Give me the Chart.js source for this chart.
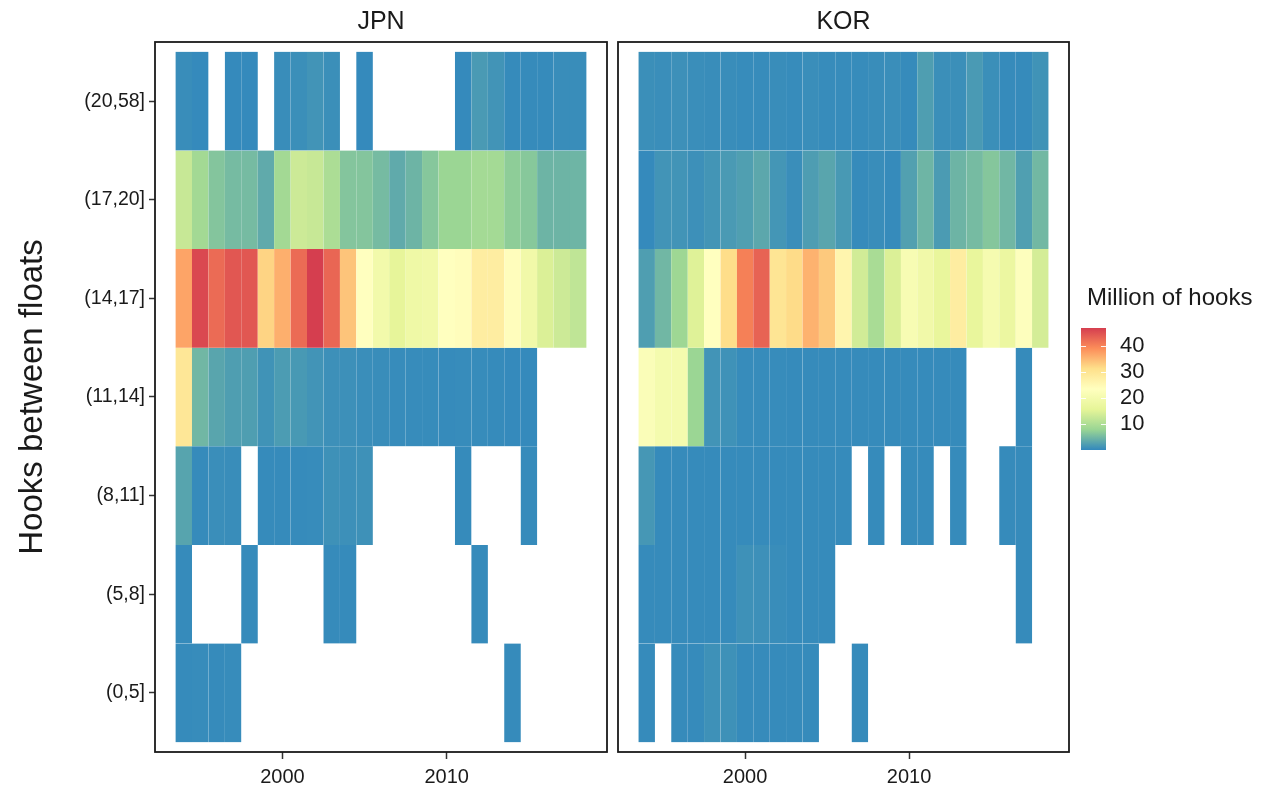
<!DOCTYPE html>
<html>
<head>
<meta charset="utf-8">
<title>Hooks between floats - JPN / KOR</title>
<script src="https://cdn.jsdelivr.net/npm/chart.js@4.4.1/dist/chart.umd.min.js"></script>
<style>
  html, body { margin: 0; padding: 0; background: #fff; }
  #wrap { position: relative; width: 1269px; height: 795px; }
  canvas { position: absolute; top: 0; }
</style>
</head>
<body>
<div id="wrap">
  <canvas id="jpn" width="612" height="795" style="left:0"></canvas>
  <canvas id="kor" width="462" height="795" style="left:612px"></canvas>
  <canvas id="scale" width="194" height="200" style="left:1075px;top:270px"></canvas>
</div>
<script>
// years on the x axis, one tile per year
const years = [1994, 1995, 1996, 1997, 1998, 1999, 2000, 2001, 2002, 2003, 2004, 2005, 2006,
               2007, 2008, 2009, 2010, 2011, 2012, 2013, 2014, 2015, 2016, 2017, 2018];
const yearTicks = [2000, 2010];
const hookBins = ['(0,5]', '(5,8]', '(8,11]', '(11,14]', '(14,17]', '(17,20]', '(20,58]'];
const legendTicks = [10, 20, 30, 40];
const colorMin = 0;
const colorMax = 47;

// million of hooks, JPN (null = no effort)
const jpn_0_5   = [0.3, 0.4, 0.3, 0.4, null, null, null, null, null, null, null, null, null, null, null, null, null, null, null, null, 0.3, null, null, null, null];
const jpn_5_8   = [0.3, null, null, null, 0.3, null, null, null, null, 0.3, 0.3, null, null, null, null, null, null, null, 0.3, null, null, null, null, null, null];
const jpn_8_11  = [2.8, 0.3, 0.6, 0.5, null, 0.3, 0.3, 0.3, 0.4, 0.9, 0.8, 0.9, null, null, null, null, null, 0.3, null, null, null, 0.3, null, null, null];
const jpn_11_14 = [29.5, 4.8, 3.0, 2.2, 2.2, 1.1, 2.0, 1.7, 1.2, 0.8, 0.8, 0.6, 0.5, 0.4, 0.4, 0.4, 0.3, 0.4, 0.4, 0.3, 0.2, 0.2, null, null, null];
const jpn_14_17 = [37, 46, 42.5, 44.5, 44.5, 32.5, 36, 42.5, 47, 43, 34, 23.5, 19.5, 16, 18.5, 19, 23.5, 24, 28, 28, 24, 19, 14.5, 13, 11.7];
const jpn_17_20 = [12.5, 8.8, 6.2, 5.2, 5.2, 3.5, 8.8, 13, 12.5, 9.8, 6.2, 6.2, 5.2, 3.5, 4.5, 6.4, 8, 8, 9, 9, 7, 6.5, 4.5, 4.5, 4.6];
const jpn_20_58 = [0.5, 0.2, null, 0.2, 0.2, null, 0.5, 0.7, 1.2, 0.7, null, 0.2, null, null, null, null, null, 0.2, 1.8, 1.2, 0.3, 0.3, 0.3, 0.5, 0.5];

// million of hooks, KOR
const kor_0_5   = [0.3, null, 0.3, 0.3, 0.9, 0.9, 0.3, 0.3, 0.3, 0.3, 0.3, null, null, 0.3, null, null, null, null, null, null, null, null, null, null, null];
const kor_5_8   = [0.3, 0.3, 0.3, 0.3, 0.3, 0.3, 0.9, 0.8, 0.5, 0.3, 0.3, 0.3, null, null, null, null, null, null, null, null, null, null, null, 0.3, null];
const kor_8_11  = [1.5, 0.3, 0.3, 0.3, 0.3, 0.3, 0.3, 0.3, 0.3, 0.3, 0.3, 0.3, 0.3, null, 0.3, null, 0.3, 0.3, null, 0.3, null, null, 0.3, 0.3, null];
const kor_11_14 = [22, 20, 20, 8, 1.2, 1.0, 0.4, 0.4, 0.4, 0.3, 0.3, 0.3, 0.3, 0.3, 0.3, 0.3, 0.3, 0.3, 0.3, 0.3, null, null, null, 0.3, null];
const kor_14_17 = [2.2, 4.8, 8.3, 15, 23.5, 31.5, 40.5, 43.3, 30, 31.7, 35.7, 33.5, 26, 13.5, 9.5, 14.5, 21, 19, 16.5, 28, 16.5, 20.5, 17.5, 23, 13.8];
const kor_17_20 = [0.2, 1.2, 1.2, 0.8, 1.3, 1.8, 2.3, 3.2, 1.4, 0.6, 2.1, 3.0, 1.7, 0.3, 0.5, 0.3, 2.4, 4.6, 1.9, 4.5, 5.2, 6.3, 4.8, 2.3, 4.9];
const kor_20_58 = [0.7, 0.6, 0.8, 0.6, 0.5, 0.5, 0.4, 0.4, 0.5, 0.4, 0.6, 0.4, 0.4, 0.4, 0.5, 0.6, 0.3, 2.2, 0.7, 0.7, 1.8, 0.7, 0.3, 0.3, 1.1];

const jpnRows = [jpn_0_5, jpn_5_8, jpn_8_11, jpn_11_14, jpn_14_17, jpn_17_20, jpn_20_58];
const korRows = [kor_0_5, kor_5_8, kor_8_11, kor_11_14, kor_14_17, kor_17_20, kor_20_58];

// reversed brewer "Spectral" (7 colours), as scale_fill_distiller
const spectral = ['#3288BD', '#99D594', '#E6F598', '#FFFFBF', '#FEE08B', '#FC8D59', '#D53E4F'];

Chart.defaults.font.family = '"Liberation Sans", Arial, sans-serif';
Chart.defaults.color = '#1a1a1a';

function hexRgb(h) {
  return [parseInt(h.slice(1, 3), 16), parseInt(h.slice(3, 5), 16), parseInt(h.slice(5, 7), 16)];
}

function fillFor(v) {
  let t = (v - colorMin) / (colorMax - colorMin);
  t = Math.max(0, Math.min(1, t)) * (spectral.length - 1);
  const i = Math.min(Math.floor(t), spectral.length - 2);
  const f = t - i;
  const a = hexRgb(spectral[i]), b = hexRgb(spectral[i + 1]);
  const c = a.map((x, k) => Math.round(x + (b[k] - x) * f));
  return `rgb(${c[0]},${c[1]},${c[2]})`;
}

// one floating bar per (year, bin) cell
function tiles(rows) {
  const out = [];
  rows.forEach((vals, r) => {
    vals.forEach((v, i) => {
      if (v !== null) out.push({ x: years[i], y: [r + 0.5, r + 1.5], v: v });
    });
  });
  return out;
}

// border round the panel and the strip label above it
const panelFrame = {
  id: 'panelFrame',
  afterDraw(chart, args, opts) {
    const { ctx, chartArea: a } = chart;
    ctx.save();
    ctx.strokeStyle = '#1a1a1a';
    ctx.lineWidth = 1.8;
    ctx.strokeRect(a.left, a.top, a.right - a.left, a.bottom - a.top);
    ctx.font = '25px "Liberation Sans", Arial, sans-serif';
    ctx.fillStyle = '#1a1a1a';
    ctx.textAlign = 'center';
    ctx.textBaseline = 'middle';
    ctx.fillText(opts.label, (a.left + a.right) / 2, a.top / 2 + 1);
    ctx.restore();
  }
};

function panel(canvasId, label, rows, showY, padLeft) {
  const ctx = document.getElementById(canvasId).getContext('2d');
  return new Chart(ctx, {
    type: 'bar',
    data: {
      datasets: [{
        data: tiles(rows),
        backgroundColor: (c) => c.raw ? fillFor(c.raw.v) : 'transparent',
        borderColor: 'rgba(255,255,255,0.05)',
        borderWidth: 0.3,
        barPercentage: 1,
        categoryPercentage: 1
      }]
    },
    options: {
      responsive: false,
      animation: false,
      devicePixelRatio: 1,
      layout: { padding: { top: 42, right: 5, bottom: 0, left: padLeft } },
      plugins: {
        legend: { display: false },
        tooltip: { enabled: false },
        panelFrame: { label: label }
      },
      scales: {
        x: {
          type: 'linear',
          min: 1992.25,
          max: 2019.75,
          bounds: 'data',
          offset: false,
          afterBuildTicks: (s) => { s.ticks = yearTicks.map(v => ({ value: v })); },
          afterFit: (s) => { s.height = 43; },
          border: { display: false },
          grid: { offset: false, drawOnChartArea: false, tickLength: 7, tickColor: '#333', tickWidth: 1.5 },
          ticks: {
            autoSkip: false, maxRotation: 0, padding: 6,
            font: { size: 20 }, color: '#1a1a1a',
            callback: (v) => String(v)
          }
        },
        y: {
          type: 'linear',
          display: showY,
          min: 0.4,
          max: 7.6,
          bounds: 'data',
          afterBuildTicks: (s) => { s.ticks = hookBins.map((_, i) => ({ value: i + 1 })); },
          afterFit: (s) => { if (showY) s.width = 155; },
          border: { display: false },
          grid: { drawOnChartArea: false, tickLength: 6, tickColor: '#333', tickWidth: 1.5 },
          title: {
            display: true,
            text: 'Hooks between floats',
            font: { size: 33 },
            color: '#1a1a1a',
            padding: { top: 13, bottom: 0 }
          },
          ticks: {
            autoSkip: false, padding: 4,
            font: { size: 19.5 }, color: '#1a1a1a',
            callback: (v) => hookBins[Math.round(v) - 1]
          }
        }
      }
    },
    plugins: [panelFrame]
  });
}

panel('jpn', 'JPN', jpnRows, true, 0);
panel('kor', 'KOR', korRows, false, 6);

// colour bar legend
const barDecor = {
  id: 'barDecor',
  afterDatasetsDraw(chart) {
    const { ctx, chartArea: a } = chart;
    const y = chart.scales.y;
    ctx.save();
    ctx.strokeStyle = 'rgba(255,255,255,0.9)';
    ctx.lineWidth = 1;
    legendTicks.forEach(v => {
      const p = Math.round(y.getPixelForValue(v)) + 0.5;
      ctx.beginPath();
      ctx.moveTo(a.left, p); ctx.lineTo(a.left + 5, p);
      ctx.moveTo(a.right - 5, p); ctx.lineTo(a.right, p);
      ctx.stroke();
    });
    ctx.font = '24px "Liberation Sans", Arial, sans-serif';
    ctx.fillStyle = '#1a1a1a';
    ctx.textAlign = 'left';
    ctx.textBaseline = 'middle';
    ctx.fillText('Million of hooks', a.left + 6, 28);
    ctx.restore();
  }
};

new Chart(document.getElementById('scale').getContext('2d'), {
  type: 'bar',
  data: {
    labels: ['Million of hooks'],
    datasets: [{
      data: [[colorMin, colorMax]],
      barPercentage: 1,
      categoryPercentage: 1,
      backgroundColor: (c) => {
        const area = c.chart.chartArea;
        if (!area) return spectral[0];
        const g = c.chart.ctx.createLinearGradient(0, area.bottom, 0, area.top);
        spectral.forEach((col, i) => g.addColorStop(i / (spectral.length - 1), col));
        return g;
      }
    }]
  },
  options: {
    responsive: false,
    animation: false,
    devicePixelRatio: 1,
    layout: { padding: { top: 58, right: 0, bottom: 20, left: 6 } },
    plugins: { legend: { display: false }, tooltip: { enabled: false } },
    scales: {
      x: { display: false },
      y: {
        position: 'right',
        min: colorMin,
        max: colorMax,
        bounds: 'data',
        afterBuildTicks: (s) => { s.ticks = legendTicks.map(v => ({ value: v })); },
        afterFit: (s) => { s.width = 163; s.paddingTop = 0; s.paddingBottom = 0; },
        border: { display: false },
        grid: { display: false, drawTicks: false },
        ticks: { padding: 14, font: { size: 22 }, color: '#1a1a1a' }
      }
    }
  },
  plugins: [barDecor]
});
</script>
</body>
</html>
